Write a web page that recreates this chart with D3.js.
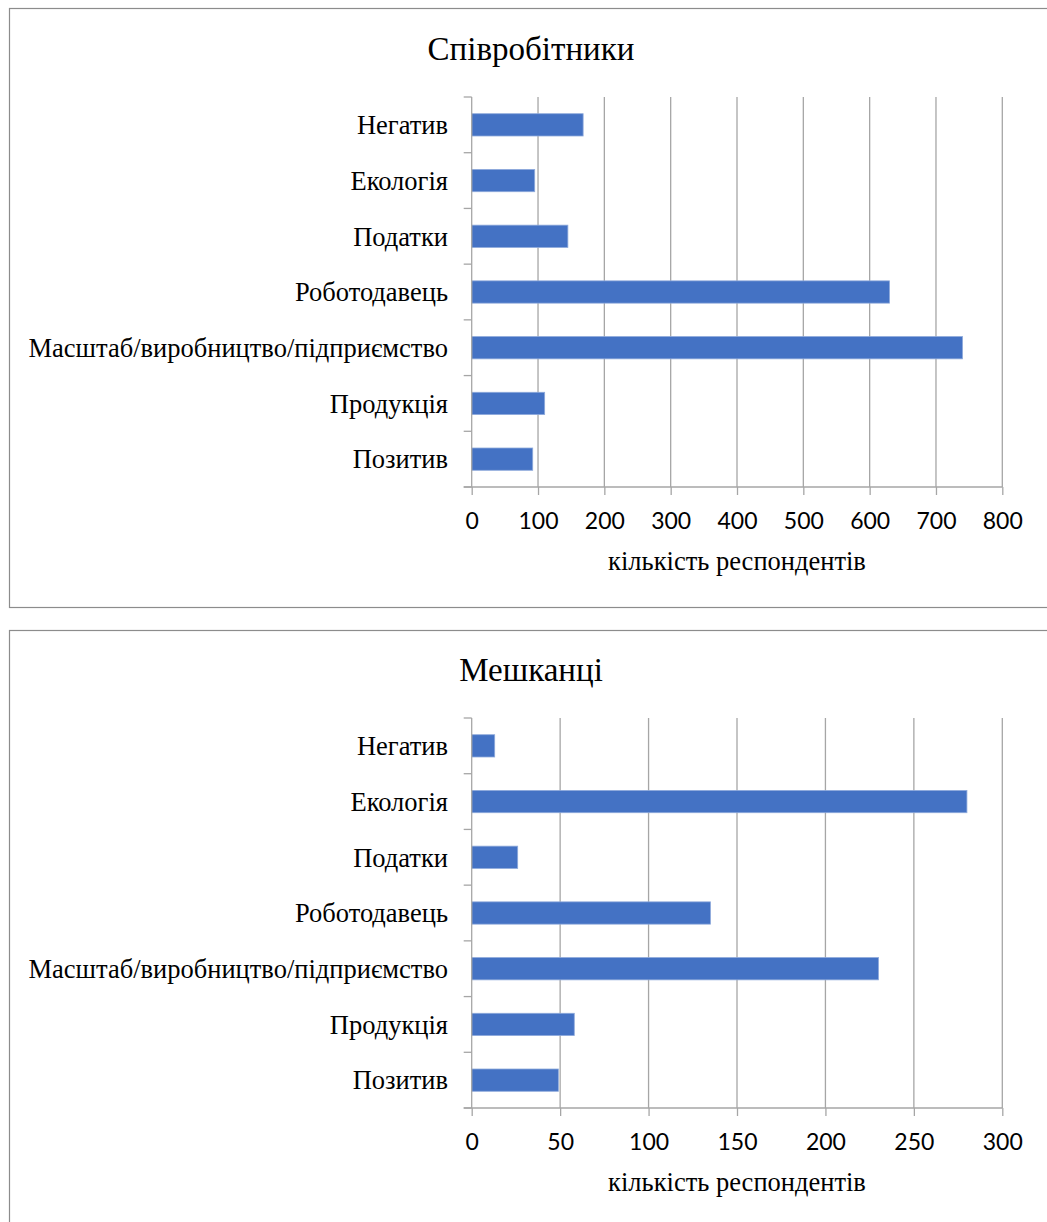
<!DOCTYPE html>
<html>
<head>
<meta charset="utf-8">
<script src="https://cdn.jsdelivr.net/npm/d3@7"></script>
<style>
  html, body { margin: 0; padding: 0; background: #fff; }
  svg { display: block; }
</style>
</head>
<body>
<svg id="chart" width="1047" height="1222"></svg>
<script>
// Categories, top to bottom as drawn
const categories = [
  "Негатив",
  "Екологія",
  "Податки",
  "Роботодавець",
  "Масштаб/виробництво/підприємство",
  "Продукція",
  "Позитив"
];

// Number of respondents per category
const employeesValues = [168, 95, 145, 630, 740, 110, 92];
const residentsValues = [13, 280, 26, 135, 230, 58, 49];

const employeesTicks = [0, 100, 200, 300, 400, 500, 600, 700, 800];
const residentsTicks = [0, 50, 100, 150, 200, 250, 300];

const panels = [
  { title: "Співробітники", values: employeesValues, ticks: employeesTicks, max: 800,
    frame: { x: 9.5, y: 8.5, w: 1060, h: 599 }, plotTop: 97 },
  { title: "Мешканці", values: residentsValues, ticks: residentsTicks, max: 300,
    frame: { x: 9.5, y: 630.5, w: 1060, h: 620 }, plotTop: 718 }
];

const axisTitle = "кількість респондентів";

const svg = d3.select("#chart");
const plotLeft = 471.7, plotRight = 1002.3, plotHeight = 390;
const gridColor = "#a6a6a6";
const barColor = "#4472C4";
const serif = "'Liberation Serif', 'Times New Roman', serif";
const sans = "Lato, 'Open Sans', sans-serif";

panels.forEach(p => {
  const g = svg.append("g");

  // chart frame
  g.append("rect")
    .attr("x", p.frame.x).attr("y", p.frame.y)
    .attr("width", p.frame.w).attr("height", p.frame.h)
    .attr("fill", "#fff").attr("stroke", "#8c8c8c").attr("stroke-width", 1.2);

  const top = p.plotTop, bottom = p.plotTop + plotHeight;

  const x = d3.scaleLinear().domain([0, p.max]).range([plotLeft, plotRight]);
  const y = d3.scaleBand().domain(categories).range([top, bottom])
    .paddingInner(0.6).paddingOuter(0.3);

  // title
  g.append("text")
    .attr("x", 531).attr("y", top - 37)
    .attr("text-anchor", "middle")
    .attr("font-family", serif).attr("font-size", 33)
    .attr("fill", "#000")
    .text(p.title);

  // vertical gridlines
  g.append("g").selectAll("line")
    .data(p.ticks.filter(t => t !== 0))
    .join("line")
    .attr("x1", d => x(d)).attr("x2", d => x(d))
    .attr("y1", top).attr("y2", bottom)
    .attr("stroke", gridColor).attr("stroke-width", 1.3);

  // bars
  g.append("g").selectAll("rect")
    .data(categories.map((c, i) => ({ c, v: p.values[i] })))
    .join("rect")
    .attr("x", x(0))
    .attr("y", d => y(d.c))
    .attr("width", d => x(d.v) - x(0))
    .attr("height", y.bandwidth())
    .attr("fill", barColor)
    .attr("stroke", "#8eaadb").attr("stroke-width", 0.8);

  // bottom axis: line and downward ticks
  const xAxis = d3.axisBottom(x).tickValues(p.ticks).tickSize(8).tickSizeOuter(0)
    .tickFormat(d3.format("d"));
  const xa = g.append("g").attr("transform", `translate(0,${bottom})`).call(xAxis);
  xa.select(".domain").remove();
  xa.selectAll(".tick line").attr("stroke", gridColor).attr("stroke-width", 1.3);
  xa.selectAll(".tick text")
    .attr("font-family", sans).attr("font-size", 23)
    .attr("fill", "#000").attr("y", 42).attr("dy", null);
  g.append("line")
    .attr("x1", plotLeft - 8).attr("x2", plotRight)
    .attr("y1", bottom).attr("y2", bottom)
    .attr("stroke", gridColor).attr("stroke-width", 1.3);

  // left axis with ticks at category boundaries
  g.append("line")
    .attr("x1", plotLeft).attr("x2", plotLeft)
    .attr("y1", top).attr("y2", bottom)
    .attr("stroke", gridColor).attr("stroke-width", 1.3);
  const bounds = d3.range(categories.length + 1).map(i => top + i * plotHeight / categories.length);
  g.append("g").selectAll("line")
    .data(bounds)
    .join("line")
    .attr("x1", plotLeft - 8).attr("x2", plotLeft)
    .attr("y1", d => d).attr("y2", d => d)
    .attr("stroke", gridColor).attr("stroke-width", 1.3);

  // category labels
  g.append("g").selectAll("text")
    .data(categories)
    .join("text")
    .attr("x", 448)
    .attr("y", d => y(d) + y.bandwidth() / 2)
    .attr("dy", "0.35em")
    .attr("text-anchor", "end")
    .attr("font-family", serif).attr("font-size", 26.5)
    .attr("fill", "#000")
    .text(d => d);

  // axis title
  g.append("text")
    .attr("x", 737).attr("y", bottom + 83)
    .attr("text-anchor", "middle")
    .attr("font-family", serif).attr("font-size", 26.5)
    .attr("fill", "#000")
    .text(axisTitle);
});
</script>
</body>
</html>
